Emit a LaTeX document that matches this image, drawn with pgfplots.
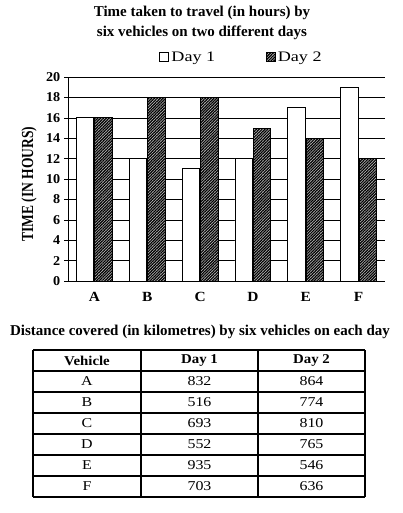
\documentclass[border=0pt]{standalone}
\usepackage{pgfplots}
\pgfplotsset{compat=1.18}
\usepackage{fontspec}
\setmainfont{Liberation Serif}
\usetikzlibrary{patterns.meta}
\begin{document}
\begin{tikzpicture}
\path[use as bounding box, fill=white] (0pt,0pt) rectangle (403pt,-513pt);
\node[font=\bfseries\fontsize{15}{20}\selectfont, align=center] at (202pt,-23pt) {Time taken to travel (in hours) by\\six vehicles on two different days};
\node[font=\bfseries\fontsize{13.5}{14}\selectfont, rotate=90] at (29pt,-184pt) {\scalebox{1}[1.25]{TIME (IN HOURS)}};
\begin{axis}[
  at={(68pt,-281pt)}, anchor=south west, scale only axis,
  width=317pt, height=204pt,
  xmin=-0.5, xmax=5.5, ymin=0, ymax=20,
  ytick={0,2,...,20},
  xtick={0,...,5}, xticklabels={A,B,C,D,E,F},
  major x tick style={draw=none},
  extra x ticks={-0.5,0.5,1.5,2.5,3.5,4.5,5.5},
  extra x tick labels={},
  extra x tick style={major tick length=4pt, tick style={black, line width=0.6pt}, grid=none},
  axis lines*=left,
  axis line style={black, line width=0.8pt},
  tick align=outside, major tick length=4pt,
  tick style={black, line width=0.6pt},
  ymajorgrids, grid style={black, line width=0.6pt},
  /pgf/number format/assume math mode=true,
  yticklabel style={font=\bfseries\fontsize{13.5}{14}\selectfont, xscale=1.05},
  xticklabel style={font=\bfseries\fontsize{14}{15}\selectfont, xscale=1.1, yshift=-4pt},
  bar width=0.33,
  legend style={at={(0.548,1.098)}, anchor=center, draw=none, fill=none,
    legend columns=2, font=\fontsize{14.5}{15}\selectfont,
    nodes={xscale=1.25},
    /tikz/every odd column/.style={column sep=0pt},
    /tikz/every even column/.style={column sep=48pt}},
  legend image code/.code={\draw[#1, line width=0.6pt] (0pt,-4.5pt) rectangle (9pt,4.5pt);},
]
\addplot[ybar, bar shift=-0.175, fill=white, draw=black, line width=0.9pt]
  coordinates {(0,16) (1,12) (2,11) (3,12) (4,17) (5,19)};
\addlegendentry{Day 1}
\addplot[ybar, bar shift=0.175, draw=black, line width=0.9pt, fill=black!25,
  postaction={pattern={Lines[angle=45,distance=2pt,line width=1.2pt]}, pattern color=black}]
  coordinates {(0,16) (1,18) (2,18) (3,15) (4,14) (5,12)};
\addlegendentry{Day 2}
\end{axis}
\node[font=\bfseries\fontsize{15}{16}\selectfont] at (200pt,-332pt) {Distance covered (in kilometres) by six vehicles on each day};
\begin{scope}[x=1pt,y=-1pt]
  \foreach \yy in {350,371,392,413,434,455,476,497}
    \draw[line width=1.1pt] (33,\yy) -- (365,\yy);
  \foreach \xx in {33,141,258,365}
    \draw[line width=1.1pt] (\xx,350) -- (\xx,497);
  \node[font=\bfseries\fontsize{13.5}{14}\selectfont, xscale=1.1] at (87,360.5) {Vehicle};
  \node[font=\bfseries\fontsize{13.5}{14}\selectfont, xscale=1.1] at (199.5,360.5) {Day 1};
  \node[font=\bfseries\fontsize{13.5}{14}\selectfont, xscale=1.1] at (311.5,360.5) {Day 2};
  \foreach \v/\a/\b [count=\i] in {A/832/864,B/516/774,C/693/810,D/552/765,E/935/546,F/703/636}{
    \node[font=\fontsize{13.5}{14}\selectfont, xscale=1.18] at (87,360.5+21*\i) {\v};
    \node[font=\fontsize{13.5}{14}\selectfont, xscale=1.18] at (199.5,360.5+21*\i) {\a};
    \node[font=\fontsize{13.5}{14}\selectfont, xscale=1.18] at (311.5,360.5+21*\i) {\b};
  }
\end{scope}
\end{tikzpicture}
\end{document}
